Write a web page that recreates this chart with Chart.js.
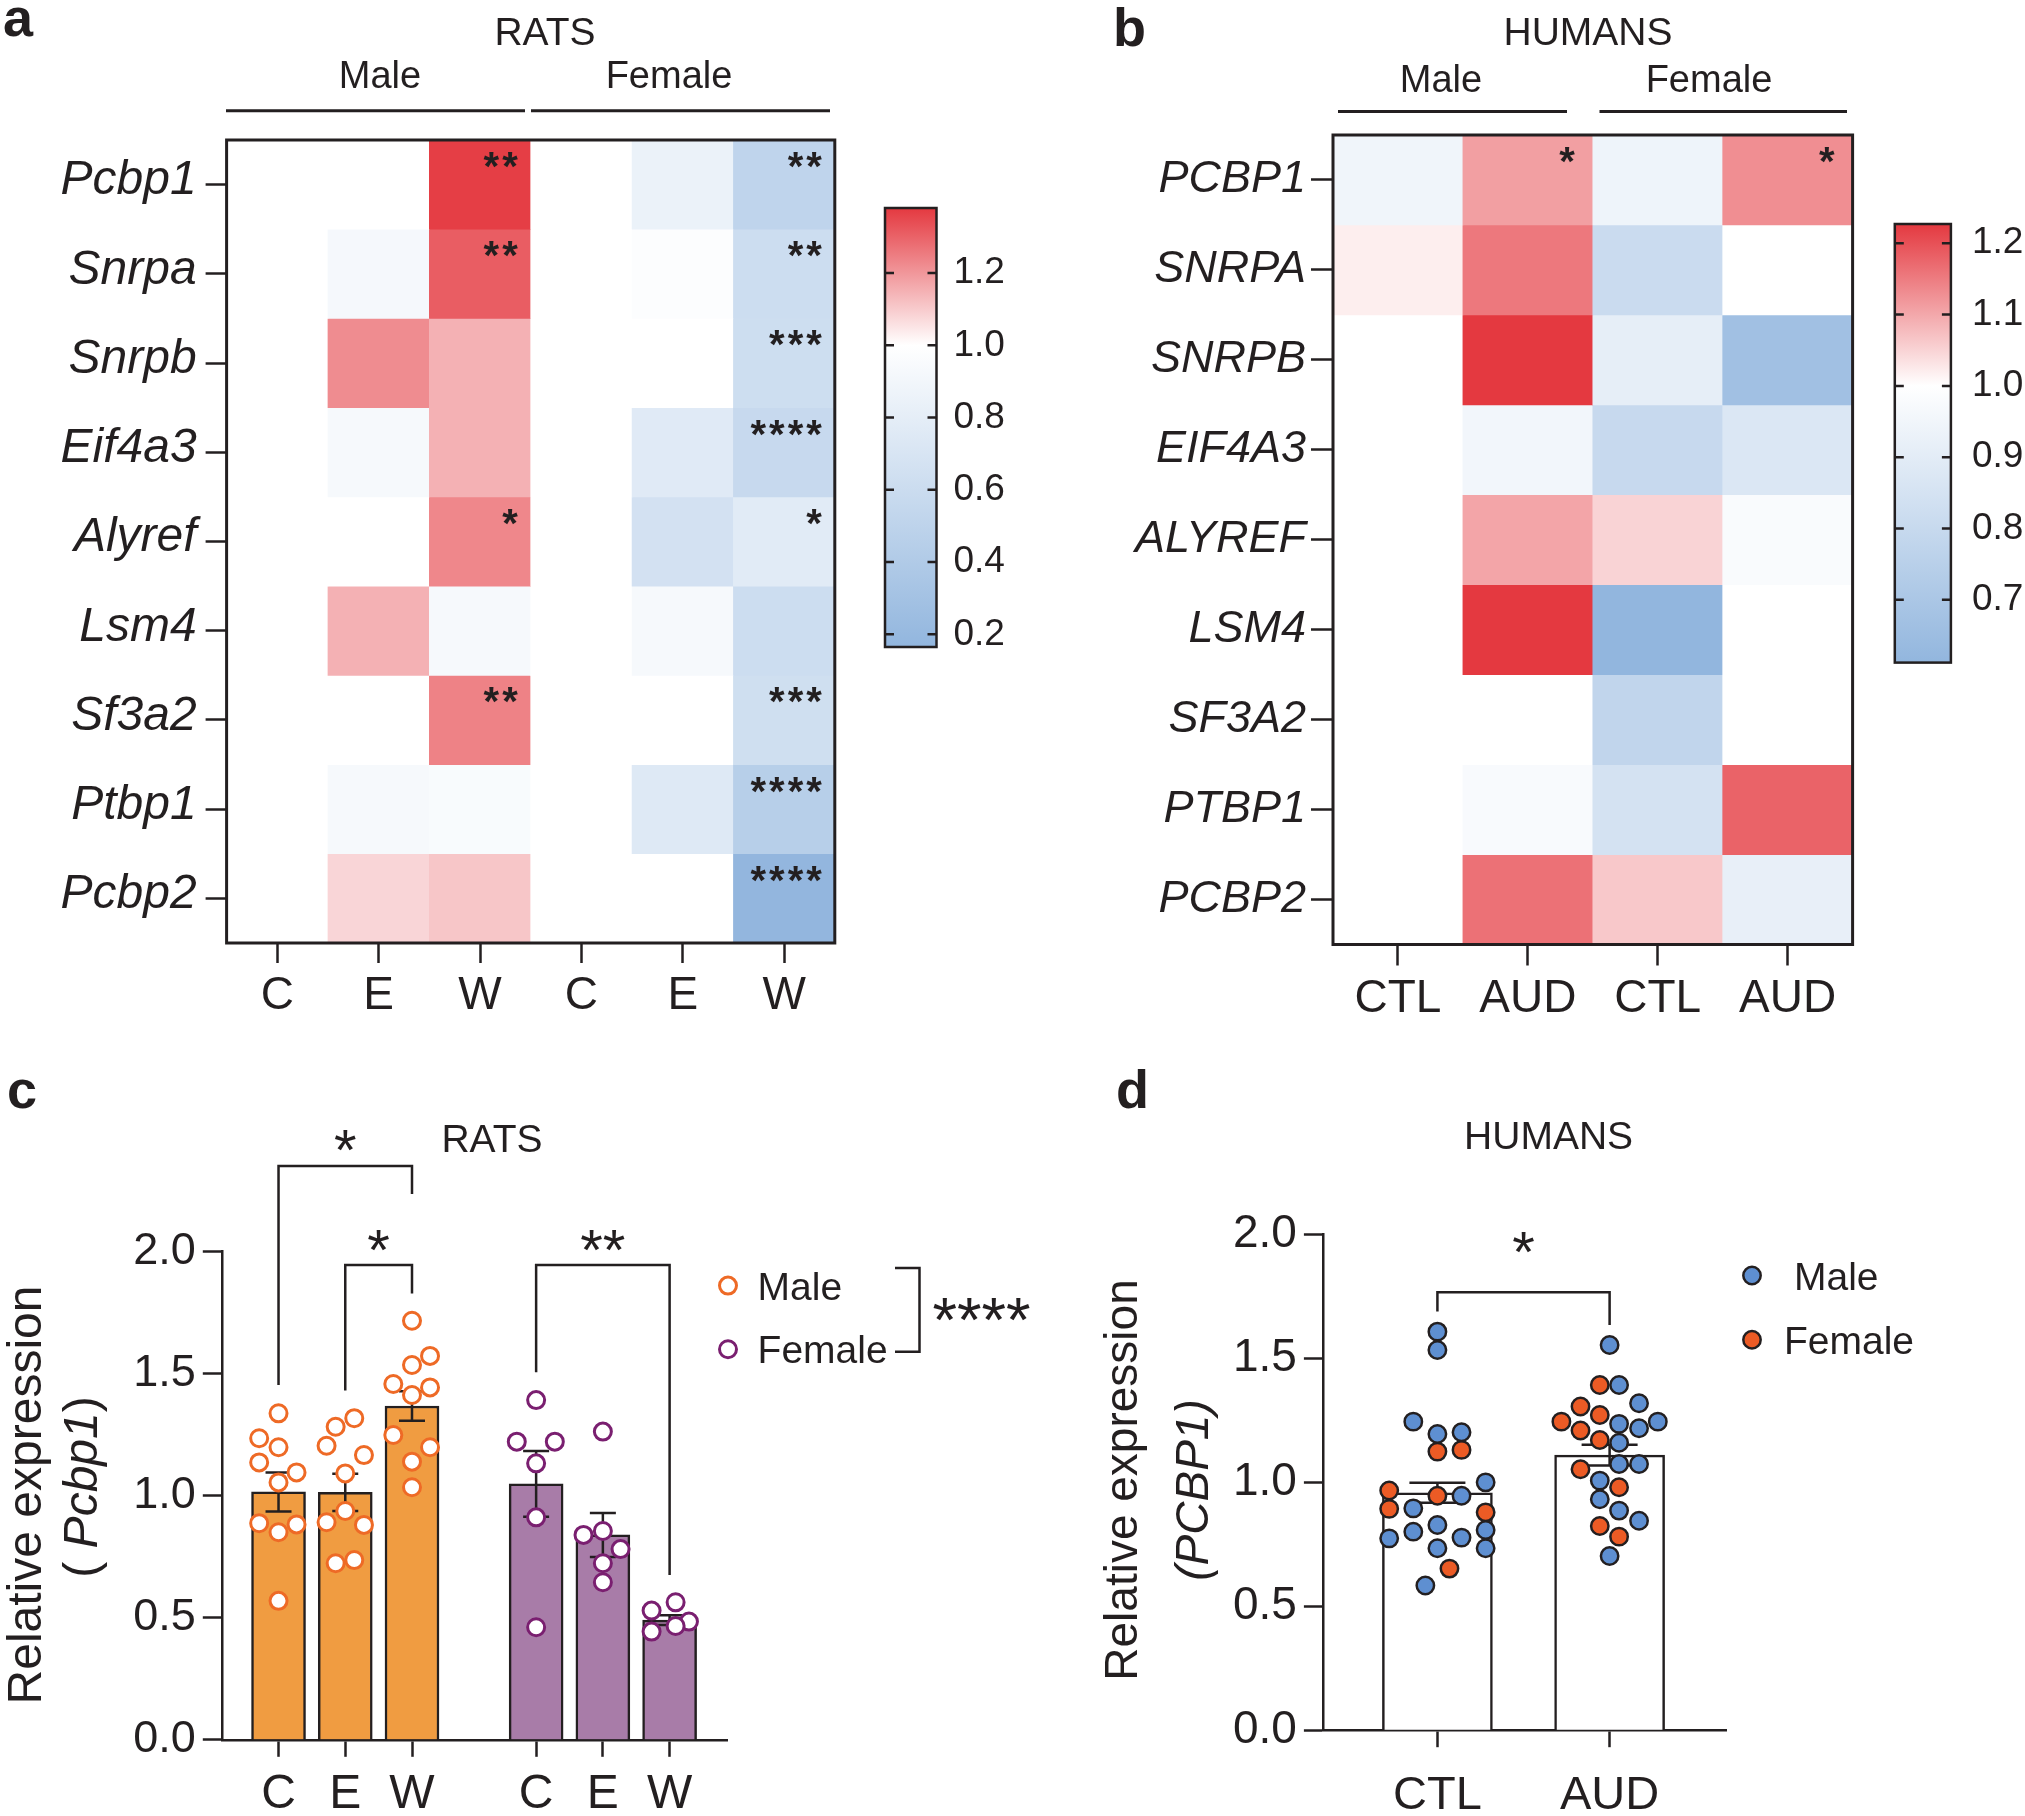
<!DOCTYPE html>
<html lang="en">
<head>
<meta charset="UTF-8">
<title>Pcbp1 and splicing factor expression</title>
<script src="https://cdn.jsdelivr.net/npm/chart.js@4.4.1/dist/chart.umd.min.js"></script>
<style>
  body { margin: 0; background: #fff; }
  #page { position: relative; width: 2025px; height: 1816px; }
  #page canvas { position: absolute; left: 0; top: 0; }
</style>
</head>
<body>
<div id="page">
  <canvas id="heatRats" width="2025" height="1816"></canvas>
  <canvas id="barRats" width="2025" height="1816"></canvas>
  <canvas id="heatHumans" width="2025" height="1816"></canvas>
  <canvas id="barHumans" width="2025" height="1816"></canvas>
  <canvas id="dotRats" width="2025" height="1816"></canvas>
  <canvas id="dotHumans" width="2025" height="1816"></canvas>
</div>
<script>
// ---------- a : rat heatmap (fold change vs control) ----------
const ratGenes = ['Pcbp1', 'Snrpa', 'Snrpb', 'Eif4a3', 'Alyref', 'Lsm4', 'Sf3a2', 'Ptbp1', 'Pcbp2'];
const ratCols = ['C', 'E', 'W', 'C', 'E', 'W'];
const ratFold = [
  [1.00, 1.00, 1.37, 1.00, 0.85, 0.51],
  [1.00, 0.92, 1.31, 1.00, 0.98, 0.61],
  [1.00, 1.22, 1.15, 1.00, 1.00, 0.62],
  [1.00, 0.93, 1.15, 1.00, 0.76, 0.57],
  [1.00, 1.00, 1.23, 1.00, 0.66, 0.77],
  [1.00, 1.15, 0.93, 1.00, 0.93, 0.61],
  [1.00, 1.00, 1.24, 1.00, 1.00, 0.63],
  [1.00, 0.93, 0.95, 1.00, 0.75, 0.45],
  [1.00, 1.08, 1.11, 1.00, 1.00, 0.17]
];
const ratStars = [
  ['', '', '**', '', '', '**'],
  ['', '', '**', '', '', '**'],
  ['', '', '', '', '', '***'],
  ['', '', '', '', '', '****'],
  ['', '', '*', '', '', '*'],
  ['', '', '', '', '', ''],
  ['', '', '**', '', '', '***'],
  ['', '', '', '', '', '****'],
  ['', '', '', '', '', '****']
];
const ratRange = [0.165, 1.38];
const ratRangeTicks = [0.2, 0.4, 0.6, 0.8, 1.0, 1.2];

// ---------- b : human heatmap ----------
const humanGenes = ['PCBP1', 'SNRPA', 'SNRPB', 'EIF4A3', 'ALYREF', 'LSM4', 'SF3A2', 'PTBP1', 'PCBP2'];
const humanCols = ['CTL', 'AUD', 'CTL', 'AUD'];
const humanFold = [
  [0.945, 1.110, 0.940, 1.130],
  [1.020, 1.155, 0.810, 1.000],
  [1.000, 1.227, 0.910, 0.666],
  [1.000, 0.953, 0.800, 0.873],
  [1.000, 1.103, 1.050, 0.980],
  [1.000, 1.227, 0.612, 1.000],
  [1.000, 1.000, 0.779, 1.000],
  [1.000, 0.975, 0.847, 1.179],
  [1.000, 1.163, 1.063, 0.917]
];
const humanStars = [
  ['', '*', '', '*'],
  ['', '', '', ''], ['', '', '', ''], ['', '', '', ''], ['', '', '', ''],
  ['', '', '', ''], ['', '', '', ''], ['', '', '', ''], ['', '', '', '']
];
const humanRange = [0.612, 1.227];
const humanRangeTicks = [0.7, 0.8, 0.9, 1.0, 1.1, 1.2];

// ---------- c : rat Pcbp1 qPCR ----------
const ratBarCols = ['C', 'E', 'W', 'C', 'E', 'W'];
const ratBarSex = ['Male', 'Male', 'Male', 'Female', 'Female', 'Female'];
const ratMean = [1.015, 1.013, 1.367, 1.048, 0.839, 0.49];
const ratSem = [0.08, 0.076, 0.06, 0.135, 0.09, 0.02];
const ratPoints = [
  [1.337, 1.235, 1.198, 1.136, 1.095, 1.054, 0.887, 0.882, 0.850, 0.569],
  [1.317, 1.282, 1.204, 1.166, 1.091, 0.937, 0.891, 0.880, 0.736, 0.723],
  [1.716, 1.572, 1.535, 1.457, 1.443, 1.412, 1.248, 1.198, 1.139, 1.034],
  [1.391, 1.221, 1.221, 1.132, 0.911, 0.461],
  [1.262, 0.855, 0.839, 0.781, 0.723, 0.645],
  [0.563, 0.529, 0.484, 0.466, 0.443]
];
const ratJitter = [
  [0, -0.29, 0, -0.29, 0.27, 0, -0.29, 0.27, 0, 0],
  [0.135, -0.144, -0.28, 0.28, 0, 0, -0.28, 0.28, 0.135, -0.144],
  [0, 0.27, 0, -0.28, 0.27, 0, -0.28, 0.27, 0, 0],
  [0, -0.29, 0.28, 0, 0, 0],
  [0, 0, -0.29, 0.265, 0, 0],
  [0.09, -0.27, 0.29, 0.09, -0.27]
];
const ratBrackets = [
  { from: 0, to: 2, top: 2.35, legs: [1.453, 2.235], stars: '*' },
  { from: 1, to: 2, top: 1.944, legs: [1.43, 1.828], stars: '*' },
  { from: 3, to: 5, top: 1.944, legs: [1.505, 0.675], stars: '**' }
];
const ratSexEffect = '****';
const yTicksExpr = [0, 0.5, 1.0, 1.5, 2.0];

// ---------- d : human PCBP1 qPCR ----------
const humanBarCols = ['CTL', 'AUD'];
const humanMean = [0.958, 1.11];
const humanSem = [0.04, 0.042];
const humanMale = [
  [1.608, 1.534, 1.245, 1.195, 1.202, 1.000, 0.946, 0.895, 0.828, 0.801, 0.808, 0.774, 0.777, 0.734, 0.734, 0.584],
  [1.554, 1.393, 1.319, 1.245, 1.236, 1.218, 1.160, 1.074, 1.074, 1.007, 0.932, 0.886, 0.845, 0.703]
];
const humanMaleJitter = [
  [0, 0, -0.14, 0, 0.14, 0.28, 0.14, -0.14, 0, -0.14, 0.28, -0.28, 0.14, 0, 0.28, -0.07],
  [0, 0.055, 0.171, 0.28, 0.055, 0.171, 0.055, 0.055, 0.171, -0.057, -0.057, 0.055, 0.171, 0]
];
const humanFemale = [
  [1.131, 1.124, 0.967, 0.946, 0.893, 0.879, 0.652],
  [1.393, 1.306, 1.272, 1.245, 1.209, 1.171, 1.053, 0.980, 0.824, 0.781]
];
const humanFemaleJitter = [
  [0.14, 0, -0.28, 0, -0.28, 0.28, 0.07],
  [-0.057, -0.169, -0.057, -0.28, -0.169, -0.057, -0.169, 0.055, -0.057, 0.055]
];
const humanBrackets = [{ from: 0, to: 1, top: 1.767, legs: [1.689, 1.635], stars: '*' }];

// ---------- drawing ----------
const INK = '#231f20';
const FONT = "'Liberation Sans', Arial, Helvetica, sans-serif";
const W = 2025, H = 1816;
const RED = [228, 57, 64], BLUE = [146, 182, 222];
Chart.defaults.font.family = FONT;
Chart.defaults.color = INK;

function heatColor(v, range) {
  let c, t;
  if (v >= 1) { c = RED; t = Math.min(1, (v - 1) / (range[1] - 1)); }
  else { c = BLUE; t = Math.min(1, (1 - v) / (1 - range[0])); }
  const mix = k => Math.round(255 + (c[k] - 255) * t);
  return `rgb(${mix(0)}, ${mix(1)}, ${mix(2)})`;
}

// place the chart area at page coords; the axes get a fixed size
function padding(area, yW, xH, axisRight) {
  return axisRight
    ? { left: area.l, top: area.t, right: W - area.r - yW, bottom: H - area.b - xH }
    : { left: area.l - yW, top: area.t, right: W - area.r, bottom: H - area.b - xH };
}

function text(ctx, str, x, y, font, align) {
  ctx.font = font; ctx.textAlign = align || 'center'; ctx.textBaseline = 'alphabetic';
  ctx.fillText(str, x, y);
}
// centre the glyphs themselves on cy (used for asterisks and legend text)
function textMid(ctx, str, x, cy, font, align) {
  ctx.font = font; ctx.textAlign = align || 'center'; ctx.textBaseline = 'alphabetic';
  const m = ctx.measureText(str);
  ctx.fillText(str, x, cy + (m.actualBoundingBoxAscent - m.actualBoundingBoxDescent) / 2);
}
function yTitle(ctx, cx, cy, parts, size) {
  ctx.save();
  ctx.translate(cx, cy); ctx.rotate(-Math.PI / 2);
  ctx.textBaseline = 'middle'; ctx.textAlign = 'left';
  const fonts = parts.map(p => `${p[1] ? 'italic ' : ''}${size}px ${FONT}`);
  const ws = parts.map((p, k) => { ctx.font = fonts[k]; return ctx.measureText(p[0]).width; });
  let x0 = -ws.reduce((a, b) => a + b, 0) / 2;
  parts.forEach((p, k) => { ctx.font = fonts[k]; ctx.fillText(p[0], x0, 0); x0 += ws[k]; });
  ctx.restore();
}

function heatDecor(o) {
  return {
    id: 'heatDecor',
    afterDraw(chart) {
      const { ctx, chartArea: a, scales: { x, y } } = chart;
      const half = (x.getPixelForValue(1) - x.getPixelForValue(0)) / 2;
      ctx.save();
      ctx.fillStyle = INK;
      ctx.letterSpacing = '3px';
      o.stars.forEach((row, i) => row.forEach((s, j) => {
        if (s) textMid(ctx, s, x.getPixelForValue(j) + half - o.starInset, y.getPixelForValue(i) + 20, `bold 40px ${FONT}`, 'right');
      }));
      ctx.letterSpacing = '0px';
      ctx.strokeStyle = INK; ctx.lineWidth = 3;
      ctx.strokeRect(a.left, a.top, a.width, a.height);
      const h = o.head;
      text(ctx, h.title[0], h.title[1], h.title[2], `39px ${FONT}`);
      h.sexes.forEach(s => text(ctx, s[0], s[1], s[2], `38px ${FONT}`));
      ctx.beginPath();
      h.lines.forEach(l => { ctx.moveTo(l[0], l[2]); ctx.lineTo(l[1], l[2]); });
      ctx.stroke();
      text(ctx, h.letter[0], h.letter[1], h.letter[2], `bold 54px ${FONT}`, 'left');
      ctx.restore();
    }
  };
}

function heatmap(id, o) {
  const datasets = o.genes.map((g, i) => ({
    label: g,
    data: o.cols.map(() => 1),
    backgroundColor: o.fold[i].map(v => heatColor(v, o.range)),
    borderWidth: 0,
    barPercentage: 1,
    categoryPercentage: 1
  }));
  return new Chart(document.getElementById(id), {
    type: 'bar',
    data: { labels: o.cols, datasets },
    options: {
      responsive: false, animation: false, events: [],
      layout: { padding: padding(o.area, o.yW, o.xH) },
      plugins: { legend: { display: false }, tooltip: { enabled: false } },
      scales: {
        x: {
          stacked: true,
          border: { display: false },
          grid: { offset: false, drawOnChartArea: false, tickLength: o.xTick, tickWidth: 2.5, tickColor: INK },
          ticks: { color: INK, font: { size: 46 }, padding: 6, maxRotation: 0, autoSkip: false },
          afterFit: s => { s.height = o.xH; }
        },
        y: {
          stacked: true, reverse: true, min: 0, max: o.genes.length,
          border: { display: false },
          grid: { drawOnChartArea: false, tickLength: o.yTick, tickWidth: 2.5, tickColor: INK },
          afterBuildTicks: s => { s.ticks = o.genes.map((g, i) => ({ value: i + 0.5 })); },
          ticks: { color: INK, font: { size: o.geneSize, style: 'italic' }, padding: o.yPad, autoSkip: false,
                   labelOffset: o.yLift, callback: v => o.genes[Math.floor(v)] },
          afterFit: s => { s.width = o.yW; }
        }
      }
    },
    plugins: [heatDecor(o)]
  });
}

const barFrame = {
  id: 'barFrame',
  afterDraw(chart) {
    const { ctx, chartArea: a, scales: { y } } = chart;
    ctx.save();
    ctx.strokeStyle = INK; ctx.lineWidth = 2.5;
    ctx.strokeRect(a.left, a.top, a.width, a.height);
    ctx.beginPath();
    y.ticks.forEach(t => {
      const py = y.getPixelForValue(t.value);
      ctx.moveTo(a.left, py); ctx.lineTo(a.left + 9, py);
      ctx.moveTo(a.right - 9, py); ctx.lineTo(a.right, py);
    });
    ctx.stroke();
    ctx.restore();
  }
};

function colorBar(id, o) {
  const [lo, hi] = o.range;
  return new Chart(document.getElementById(id), {
    type: 'bar',
    data: {
      labels: [''],
      datasets: [{
        data: [[lo, hi]], borderWidth: 0, barPercentage: 1, categoryPercentage: 1,
        backgroundColor: c => {
          const ch = c.chart;
          if (!ch.chartArea) return null;
          const ys = ch.scales.y;
          const g = ch.ctx.createLinearGradient(0, ys.getPixelForValue(hi), 0, ys.getPixelForValue(lo));
          g.addColorStop(0, heatColor(hi, o.range));
          g.addColorStop((hi - 1) / (hi - lo), heatColor(1, o.range));
          g.addColorStop(1, heatColor(lo, o.range));
          return g;
        }
      }]
    },
    options: {
      responsive: false, animation: false, events: [],
      layout: { padding: padding(o.area, o.axisW, 0, true) },
      plugins: { legend: { display: false }, tooltip: { enabled: false } },
      scales: {
        x: { display: false },
        y: {
          position: 'right', min: lo, max: hi,
          border: { display: false },
          grid: { display: false, drawTicks: false },
          afterBuildTicks: s => { s.ticks = o.ticks.map(v => ({ value: v })); },
          ticks: { color: INK, font: { size: 37 }, padding: o.gap, callback: v => v.toFixed(1) },
          afterFit: s => { s.width = o.axisW; }
        }
      }
    },
    plugins: [barFrame]
  });
}

function dotDecor(o) {
  return {
    id: 'dotDecor',
    afterDatasetDraw(chart, args) {
      if (args.index !== 0) return;           // error bars right after the bars
      const { ctx, scales: { x, y } } = chart;
      ctx.save();
      ctx.strokeStyle = INK; ctx.lineWidth = 2.5;
      ctx.beginPath();
      o.pos.forEach((p, i) => {
        const px = x.getPixelForValue(p);
        const lo = y.getPixelForValue(o.mean[i] - o.sem[i]);
        const hi = y.getPixelForValue(o.mean[i] + o.sem[i]);
        ctx.moveTo(px, lo); ctx.lineTo(px, hi);
        ctx.moveTo(px - o.cap, hi); ctx.lineTo(px + o.cap, hi);
        ctx.moveTo(px - o.cap, lo); ctx.lineTo(px + o.cap, lo);
      });
      ctx.stroke();
      ctx.restore();
    },
    afterDraw(chart) {
      const { ctx, scales: { x, y } } = chart;
      ctx.save();
      ctx.strokeStyle = INK; ctx.fillStyle = INK; ctx.lineWidth = 2.5;
      // significance brackets
      o.brackets.forEach(b => {
        const x0 = x.getPixelForValue(o.pos[b.from]), x1 = x.getPixelForValue(o.pos[b.to]);
        const top = y.getPixelForValue(b.top);
        ctx.beginPath();
        ctx.moveTo(x0, y.getPixelForValue(b.legs[0]));
        ctx.lineTo(x0, top); ctx.lineTo(x1, top);
        ctx.lineTo(x1, y.getPixelForValue(b.legs[1]));
        ctx.stroke();
        textMid(ctx, b.stars, (x0 + x1) / 2, top - o.starLift, `58px ${FONT}`);
      });
      // legend
      const L = o.legend;
      chart.data.datasets.slice(1).forEach((ds, k) => {
        ctx.beginPath();
        ctx.arc(L.x, L.y[k], ds.pointRadius, 0, Math.PI * 2);
        ctx.fillStyle = ds.pointBackgroundColor; ctx.fill();
        ctx.lineWidth = ds.pointBorderWidth; ctx.strokeStyle = ds.pointBorderColor; ctx.stroke();
        ctx.fillStyle = INK;
        textMid(ctx, ds.label, L.textX[k], L.y[k], `39px ${FONT}`, 'left');
      });
      ctx.strokeStyle = INK; ctx.lineWidth = 2.5;
      if (o.sexEffect) {
        const s = o.sexEffect;
        ctx.beginPath();
        ctx.moveTo(s.x0, s.y0); ctx.lineTo(s.x1, s.y0); ctx.lineTo(s.x1, s.y1); ctx.lineTo(s.x0, s.y1);
        ctx.stroke();
        textMid(ctx, s.stars, s.x1 + 13, (s.y0 + s.y1) / 2, `63px ${FONT}`, 'left');
      }
      text(ctx, o.title[0], o.title[1], o.title[2], `39px ${FONT}`);
      o.yTitle.forEach(t => yTitle(ctx, t.x, t.y, t.parts, o.yTitleSize));
      text(ctx, o.letter[0], o.letter[1], o.letter[2], `bold 54px ${FONT}`, 'left');
      ctx.restore();
    }
  };
}

function dotChart(id, o) {
  const datasets = [{
    type: 'bar',
    data: o.pos.map((p, i) => ({ x: p, y: o.mean[i] })),
    backgroundColor: o.barFill, borderColor: INK, borderWidth: 2.5,
    barThickness: o.barW, order: 2
  }].concat(o.series.map(s => ({
    type: 'scatter', label: s.label, data: s.points,
    pointRadius: o.r, pointBorderWidth: o.bw,
    pointBackgroundColor: s.fill, pointBorderColor: s.stroke, order: 1
  })));
  return new Chart(document.getElementById(id), {
    type: 'bar',
    data: { datasets },
    options: {
      responsive: false, animation: false, events: [],
      layout: { padding: padding(o.area, o.yW, o.xH) },
      plugins: { legend: { display: false }, tooltip: { enabled: false } },
      scales: {
        x: {
          type: 'linear', min: o.xMin, max: o.xMax, offset: false,
          border: { display: true, color: INK, width: 2.5 },
          grid: { offset: false, drawOnChartArea: false, tickLength: o.xTick, tickWidth: 2.5, tickColor: INK },
          afterBuildTicks: s => { s.ticks = o.pos.map(v => ({ value: v })); },
          ticks: { color: INK, font: { size: o.xFont }, padding: o.xPad, autoSkip: false, maxRotation: 0,
                   callback: (v, i) => o.cols[i] },
          afterFit: s => { s.height = o.xH; }
        },
        y: {
          type: 'linear', min: 0, max: 2,
          border: { display: true, color: INK, width: 2.5 },
          grid: { drawOnChartArea: false, tickLength: 19, tickWidth: 2.5, tickColor: INK },
          afterBuildTicks: s => { s.ticks = yTicksExpr.map(v => ({ value: v })); },
          ticks: { color: INK, font: { size: o.yFont }, padding: 7, callback: v => v.toFixed(1) },
          afterFit: s => { s.width = o.yW; }
        }
      }
    },
    plugins: [dotDecor(o)]
  });
}

function swarm(centres, values, jitter, groups) {
  const pts = [];
  groups.forEach(g => values[g].forEach((v, k) => pts.push({ x: centres[g] + jitter[g][k], y: v })));
  return pts;
}

// ---------- panels ----------
heatmap('heatRats', {
  genes: ratGenes, cols: ratCols, fold: ratFold, stars: ratStars, range: ratRange,
  area: { l: 226.6, t: 140, r: 834.8, b: 943 }, yW: 226.6, xH: 97,
  xTick: 20, yTick: 21, yPad: 9, yLift: -3.5, geneSize: 48, starInset: 10,
  head: {
    title: ['RATS', 545, 45],
    sexes: [['Male', 380, 87.5], ['Female', 669, 87.5]],
    lines: [[226, 525, 110.7], [531, 830, 110.7]],
    letter: ['a', 3, 36]
  }
});
colorBar('barRats', {
  range: ratRange, ticks: ratRangeTicks,
  area: { l: 885, t: 208, r: 936.5, b: 647 }, axisW: 123.5, gap: 17
});

heatmap('heatHumans', {
  genes: humanGenes, cols: humanCols, fold: humanFold, stars: humanStars, range: humanRange,
  area: { l: 1333, t: 135, r: 1852.6, b: 944.5 }, yW: 253, xH: 97,
  xTick: 21, yTick: 22, yPad: 5, yLift: 0, geneSize: 45, starInset: 15,
  head: {
    title: ['HUMANS', 1588, 44.6],
    sexes: [['Male', 1441, 92], ['Female', 1709, 92]],
    lines: [[1338, 1567, 111.4], [1599.5, 1847, 111.4]],
    letter: ['b', 1113, 46]
  }
});
colorBar('barHumans', {
  range: humanRange, ticks: humanRangeTicks,
  area: { l: 1894.8, t: 224, r: 1950.9, b: 662.6 }, axisW: 74.1, gap: 21
});

const GROUP_GAP = 0.86;   // extra space between the male and female groups
const ratPos = ratBarCols.map((c, i) => i + (ratBarSex[i] === 'Female' ? GROUP_GAP : 0));
dotChart('dotRats', {
  pos: ratPos, cols: ratBarCols, mean: ratMean, sem: ratSem,
  barFill: ratBarSex.map(s => s === 'Male' ? '#f09c41' : '#a87ca8'), barW: 54,
  series: [
    { label: 'Male', points: swarm(ratPos, ratPoints, ratJitter, [0, 1, 2]), fill: '#ffffff', stroke: '#ee6a26' },
    { label: 'Female', points: swarm(ratPos, ratPoints, ratJitter, [3, 4, 5]), fill: '#ffffff', stroke: '#7a1f70' }
  ],
  r: 8.5, bw: 3, cap: 13,
  area: { l: 221.8, t: 1251.4, r: 727, b: 1739.8 }, yW: 221.8, xH: 76.2,
  xMin: -0.85, xMax: 6.72, xTick: 17, xPad: 9, xFont: 48, yFont: 45,
  brackets: ratBrackets, starLift: 25,
  legend: { x: 728, y: [1285.6, 1349.3], textX: [757.6, 757.6] },
  sexEffect: { x0: 895, x1: 919.5, y0: 1268, y1: 1351.7, stars: ratSexEffect },
  title: ['RATS', 492, 1151.6],
  yTitleSize: 48,
  yTitle: [
    { x: 27.5, y: 1495, parts: [['Relative expression', false]] },
    { x: 84, y: 1487, parts: [['( ', false], ['Pcbp1', true], [')', false]] }
  ],
  letter: ['c', 7, 1108]
});

const humanPos = humanBarCols.map((c, i) => i);
dotChart('dotHumans', {
  pos: humanPos, cols: humanBarCols, mean: humanMean, sem: humanSem,
  barFill: '#ffffff', barW: 110,
  series: [
    { label: 'Male', points: swarm(humanPos, humanMale, humanMaleJitter, [0, 1]), fill: '#5e8fd1', stroke: INK },
    { label: 'Female', points: swarm(humanPos, humanFemale, humanFemaleJitter, [0, 1]), fill: '#ec5b25', stroke: INK }
  ],
  r: 8.7, bw: 2.5, cap: 28,
  area: { l: 1322.9, t: 1234.5, r: 1726.7, b: 1730.2 }, yW: 242.9, xH: 85.8,
  xMin: -0.665, xMax: 1.68, xTick: 17, xPad: 21, xFont: 47, yFont: 46,
  brackets: humanBrackets, starLift: 50,
  legend: { x: 1752, y: [1275.5, 1339.7], textX: [1794, 1784] },
  sexEffect: null,
  title: ['HUMANS', 1548.6, 1149],
  yTitleSize: 46,
  yTitle: [
    { x: 1124, y: 1480, parts: [['Relative expression', false]] },
    { x: 1195, y: 1490, parts: [['(PCBP1)', true]] }
  ],
  letter: ['d', 1116, 1108]
});
</script>
</body>
</html>
